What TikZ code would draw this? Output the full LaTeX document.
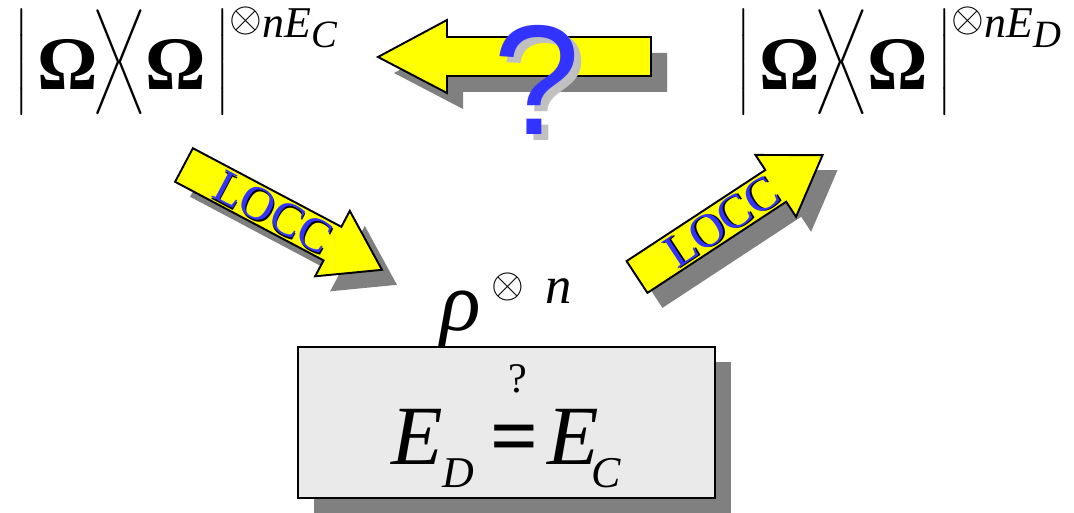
\documentclass[tikz,border=0pt]{standalone}
\usepackage{fix-cm}
\usepackage{fontspec}
\usepackage{amsmath}
\setmainfont{Liberation Serif}
\newfontfamily\qfont{Liberation Sans}
\usetikzlibrary{shadows}

\definecolor{arrowyellow}{HTML}{FFFF00}
\definecolor{shadowgray}{HTML}{808080}
\definecolor{qblue}{HTML}{3333FF}
\definecolor{qshadow}{HTML}{C0C0C0}
\definecolor{boxgray}{HTML}{EAEAEA}

\newcommand{\fsize}[1]{\fontsize{#1}{#1}\selectfont}
\newcommand{\tallstrut}{\vrule height 36pt depth 12pt width 0pt}
\newcommand{\omegaket}{$\left|\tallstrut\hspace{5pt}\raisebox{-5pt}{\textbf{Ω}}\hspace{-3pt}\right\rangle\!\!\left\langle\tallstrut\raisebox{-5pt}{\textbf{Ω}}\hspace{5pt}\right|$}

\tikzset{
	blockarrow/.style={draw=black, line width=1.1pt, fill=arrowyellow, line join=miter},
	eqbox/.style={draw=black, line width=1.1pt, fill=boxgray,
		drop shadow={shadow xshift=0.32cm, shadow yshift=-0.3cm, fill=shadowgray, opacity=1}},
	statelabel/.style={anchor=base west, inner sep=0pt, font=\fsize{43}},
}

\begin{document}
\begin{tikzpicture}[x=0.02cm, y=-0.02cm]
	\useasboundingbox (0,0) rectangle (1074,513);

	% the two states
	\node[statelabel] (omegaC) at (14,81) {\omegaket\raisebox{25pt}{\fsize{25}\raisebox{3pt}{\fsize{24}$\otimes$}\textit{nE}\raisebox{-6pt}{\fsize{22}\textit{C}}}};
	\node[statelabel] (omegaD) at (736,81) {\omegaket\raisebox{25pt}{\fsize{25}\raisebox{3pt}{\fsize{24}$\otimes$}\textit{nE}\raisebox{-6pt}{\fsize{22}\textit{D}}}};

	% arrow back, with the question
	\fill[shadowgray] (394,73) -- (463,36) -- (463,53) -- (667,53) -- (667,92) -- (463,92) -- (463,109) -- cycle;
	\draw[blockarrow] (378,57) -- (447,20) -- (447,37) -- (651,37) -- (651,76) -- (447,76) -- (447,93) -- cycle;
	\node[font=\qfont\fsize{89}, text=qshadow, inner sep=0pt] (questshadow) at (544,86) {?};
	\node[font=\qfont\fsize{89}, text=qblue, inner sep=0pt] (quest) at (537,80) {?};

	% LOCC arrows
	\foreach \sx/\sy/\ang/\len/\nm in {184/165/-27.9/224/down, 637/277/33.3/222/up} {
		\begin{scope}[shift={(\sx+15,\sy+15)}, rotate=\ang]
			\fill[shadowgray] (0,-19) -- (\len-56,-19) -- (\len-56,-37) -- (\len,0) -- (\len-56,37) -- (\len-56,19) -- (0,19) -- cycle;
		\end{scope}
		\begin{scope}[shift={(\sx,\sy)}, rotate=\ang]
			\draw[blockarrow] (0,-19) -- (\len-56,-19) -- (\len-56,-37) -- (\len,0) -- (\len-56,37) -- (\len-56,19) -- (0,19) -- cycle;
			\node[font=\fsize{27}, text=black, rotate=\ang, inner sep=0pt] at (102.5,1.5) {LOCC};
			\node[font=\fsize{27}, text=qblue, rotate=\ang, inner sep=0pt] (locc-\nm) at (101,0) {LOCC};
		\end{scope}
	}

	% the state itself
	\node[anchor=base west, inner sep=0pt] (rho) at (440,330) {\fsize{48}\textit{ρ}\hspace{6pt}\raisebox{18.5pt}{\fsize{24}$\otimes$}\hspace{12pt}\raisebox{15pt}{\fsize{30}\textit{n}}};

	% the open question
	\node[eqbox, minimum width=8.34cm, minimum height=3.02cm, text height=48pt, text depth=0pt] (ineq) at (506.5,422.5) {\fsize{48}\textit{E}\raisebox{-13pt}{\fsize{25}\textit{D}}\hspace{9pt}\ooalign{\textbf{=}\cr\hidewidth\raisebox{41pt}{\fsize{24}\hspace{4pt}?}\hidewidth\cr}\hspace{5pt}\textit{E}\hspace{-4pt}\raisebox{-13pt}{\fsize{25}\textit{C}}};
\end{tikzpicture}
\end{document}
